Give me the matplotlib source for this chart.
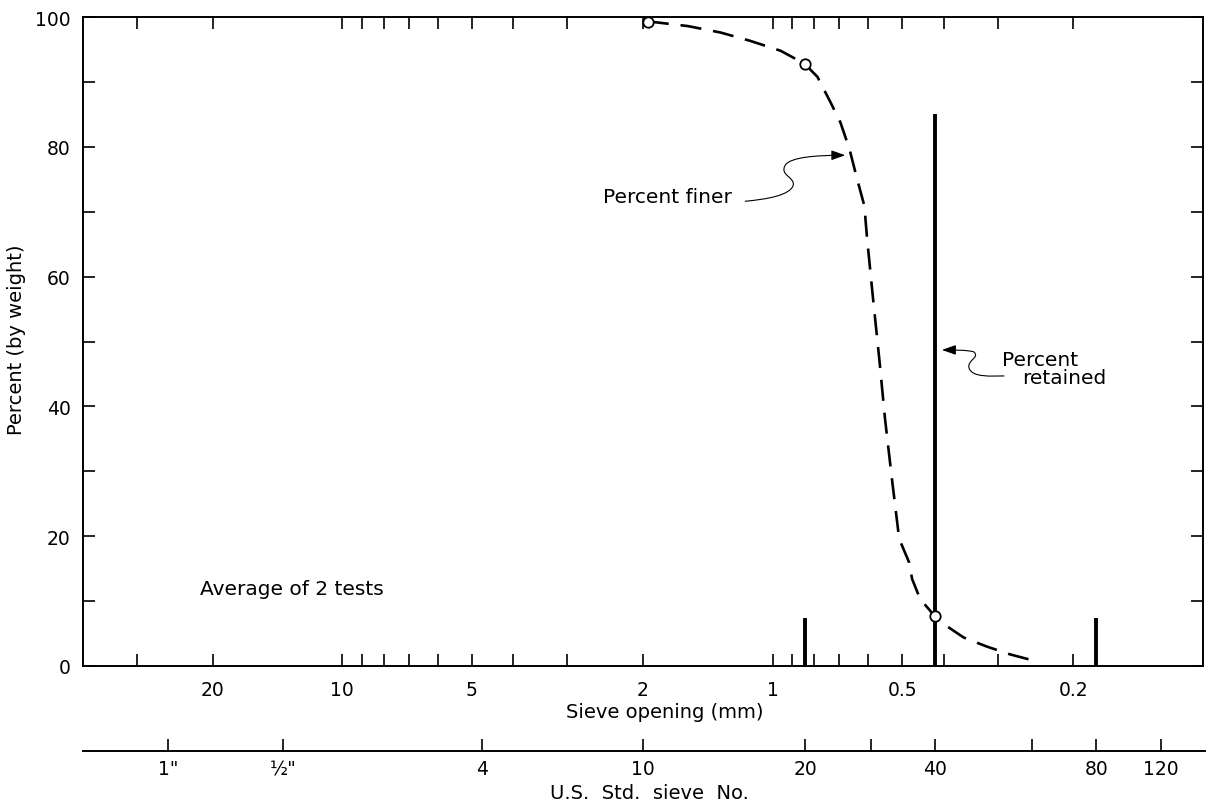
import matplotlib
matplotlib.use('Agg')
import matplotlib.pyplot as plt
from matplotlib.ticker import FixedLocator, NullFormatter, NullLocator
from matplotlib.path import Path
from matplotlib.patches import FancyArrowPatch
from matplotlib.transforms import Affine2D, ScaledTranslation

# percent finer curve (sieve opening in mm, percent)
finer_mm = [1.95, 1.876, 1.573, 1.319, 1.124, 0.958, 0.843, 0.787, 0.734, 0.696,
            0.663, 0.636, 0.612, 0.603, 0.584, 0.565, 0.548, 0.528, 0.508, 0.482,
            0.474, 0.454, 0.42, 0.401, 0.360, 0.318, 0.281, 0.253]
finer_pct = [99.3, 99.2, 98.6, 97.6, 96.3, 94.8, 92.8, 90.8, 86.9, 83.8,
             79.7, 75.0, 70.9, 65.8, 56.5, 47.3, 38.1, 28.8, 19.6, 16.0,
             13.4, 10.3, 7.7, 6.5, 4.4, 3.0, 1.8, 1.0]

# test points (open circles)
test_mm = [1.95, 0.84, 0.42]
test_pct = [99.3, 92.8, 7.7]

# percent retained on each sieve
retained_mm = [0.84, 0.42, 0.177]
retained_pct = [7.4, 85.0, 7.4]

# sieve opening axis
open_major = [20, 10, 5, 2, 1, 0.5, 0.2]
open_labels = ['20', '10', '5', '2', '1', '0.5', '0.2']
open_minor = [30, 9, 8, 7, 6, 4, 3, 0.9, 0.8, 0.7, 0.6, 0.4, 0.3]

# U.S. standard sieve numbers at their openings (mm)
sieve_mm = [25.4, 13.7, 4.72, 2.0, 0.84, 0.59, 0.42, 0.25, 0.177, 0.125]
sieve_labels = ['1"', '½"', '4', '10', '20', '', '40', '', '80', '120']

y_major = [0, 20, 40, 60, 80, 100]
y_minor = [10, 30, 50, 70, 90]

plt.rcParams['font.family'] = ['DejaVu Sans']
W, H = 1214, 803
fig = plt.figure(figsize=(W / 100, H / 100), dpi=100)
ax = fig.add_axes([83 / W, 136 / H, 1120 / W, 649 / H])

ax.set_xscale('log')
ax.set_xlim(40, 0.1)
ax.set_ylim(0, 100)

# percent finer
ax.plot(finer_mm, finer_pct, color='black', lw=1.9, dashes=(8, 4.5), zorder=3)
# percent retained
ax.vlines(retained_mm, 0, retained_pct, color='black', lw=2.8, zorder=2)
ax.plot(test_mm, test_pct, 'o', ms=7.5, mfc='white', mec='black', mew=1.3,
        zorder=4, clip_on=False)

ax.xaxis.set_major_locator(FixedLocator(open_major))
ax.xaxis.set_minor_locator(FixedLocator(open_minor))
ax.set_xticklabels(open_labels)
ax.xaxis.set_minor_formatter(NullFormatter())
ax.yaxis.set_major_locator(FixedLocator(y_major))
ax.yaxis.set_minor_locator(FixedLocator(y_minor))

ax.tick_params(which='both', direction='in', length=8.5, width=1.2,
               top=True, right=True, labelsize=13.5)
ax.tick_params(axis='x', pad=10)
ax.tick_params(axis='y', pad=9)
for s in ax.spines.values():
    s.set_linewidth(1.4)

ax.set_xlabel('Sieve opening (mm)', fontsize=14)
ax.xaxis.set_label_coords((665 - 83) / 1120, -(713 - 667) / 649)
ax.xaxis.label.set_va('center')
ax.set_ylabel('Percent (by weight)', fontsize=14)
ax.yaxis.set_label_coords(-(83 - 17) / 1120, (667 - 340) / 649)
ax.yaxis.label.set_va('center')

ax.text(21.4, 12.0, 'Average of 2 tests', fontsize=14.5, va='center')
ax.text(2.475, 72.4, 'Percent finer', fontsize=14.5, va='center')
ax.text(0.2935, 47.3, 'Percent', fontsize=14.5, va='center')
ax.text(0.2638, 44.5, 'retained', fontsize=14.5, va='center')

# wavy leader arrows (offsets in pixels from the arrow tip)
codes = [Path.MOVETO] + [Path.CURVE4] * 9
finer_lead = [(-100, -46), (-78, -44), (-55, -40), (-52, -30),
              (-50, -22), (-66, -20), (-60, -10),
              (-55, -2), (-30, 0), (0, 0)]
retained_lead = [(62, -26), (50, -26), (30, -28), (27, -18),
                 (25, -10), (38, -8), (32, -2),
                 (26, 0), (12, 0), (0, 0)]
for tip, lead in [((0.678, 78.7), finer_lead), ((0.404, 48.7), retained_lead)]:
    tr = Affine2D() + ScaledTranslation(tip[0], tip[1], ax.transData)
    arr = FancyArrowPatch(path=Path(lead, codes),
                          arrowstyle='-|>,head_length=0.7,head_width=0.25',
                          mutation_scale=12, lw=0.8, color='black', transform=tr)
    fig.add_artist(arr)

# U.S. standard sieve number scale
ax2 = fig.add_axes([83 / W, 51 / H, 1122 / W, 0.0001])
ax2.set_xscale('log')
ax2.set_xlim(40, 0.1 * 10 ** (-2 / 432))
ax2.patch.set_visible(False)
for k in ['top', 'left', 'right']:
    ax2.spines[k].set_visible(False)
ax2.spines['bottom'].set_linewidth(1.4)
ax2.set_yticks([])
ax2.xaxis.set_major_locator(FixedLocator(sieve_mm))
ax2.xaxis.set_minor_locator(NullLocator())
ax2.set_xticklabels(sieve_labels)
ax2.tick_params(axis='x', direction='in', length=8.5, width=1.2, labelsize=13.5, pad=6)

fig.text(649 / W, (H - 794) / H, 'U.S.  Std.  sieve  No.', fontsize=14,
         ha='center', va='center')

fig.savefig('out.png', dpi=100)
